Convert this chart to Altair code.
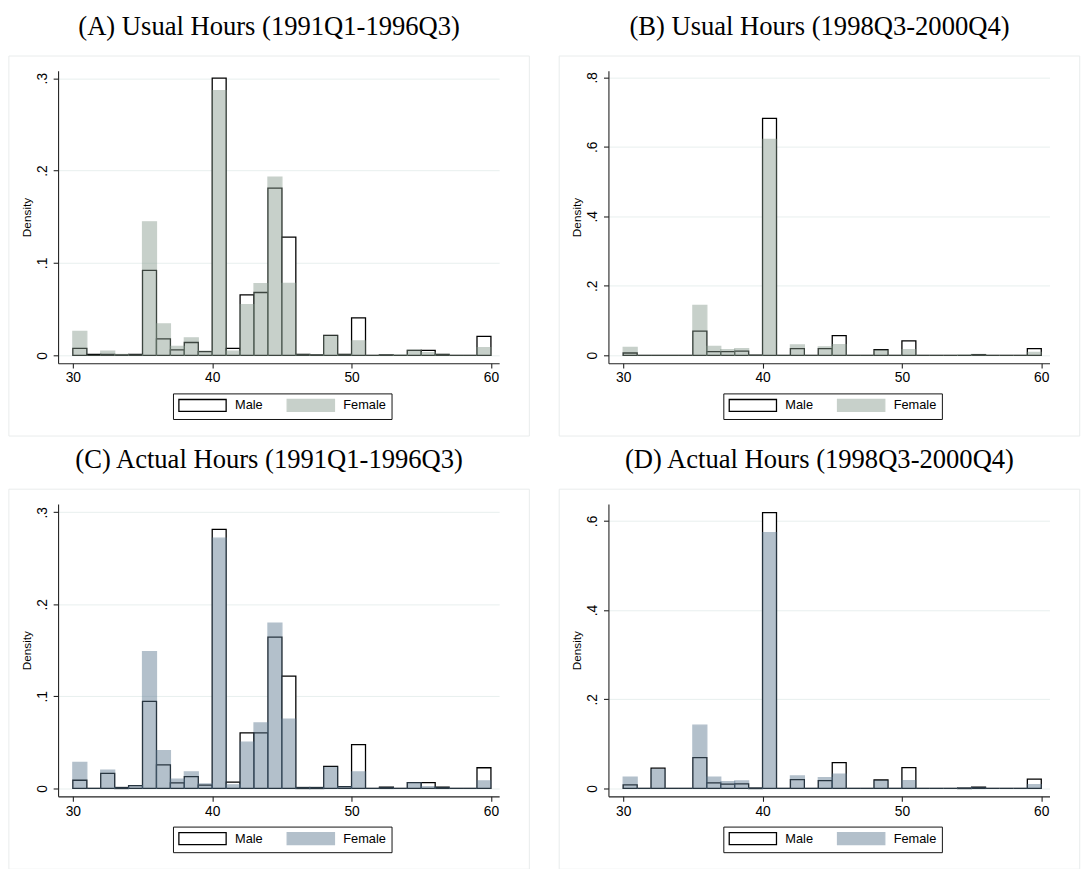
import altair as alt
import pandas as pd

# Histogram bins: one-hour bins from 30 to 60
bin_starts = list(range(30, 60))

# (A) Usual hours, 1991Q1-1996Q3
usual_early_male = [0.0075, 0.001, 0.001, 0.0005, 0.001, 0.092, 0.0178, 0.006, 0.0139, 0.004,
                    0.300, 0.0075, 0.0655, 0.068, 0.181, 0.128, 0.001, 0.0005, 0.0217, 0.001,
                    0.0406, 0.0, 0.0005, 0.0, 0.0053, 0.0053, 0.001, 0.0, 0.0, 0.0206]
usual_early_female = [0.026, 0.0, 0.0046, 0.001, 0.0005, 0.1445, 0.034, 0.0096, 0.0189, 0.0046,
                      0.2865, 0.0046, 0.055, 0.0776, 0.193, 0.078, 0.001, 0.0005, 0.021, 0.001,
                      0.0157, 0.0, 0.0005, 0.0005, 0.0057, 0.003, 0.001, 0.0, 0.0, 0.0082]

# (B) Usual hours, 1998Q3-2000Q4
usual_late_male = [0.0066, 0.0, 0.0, 0.0, 0.0, 0.0698, 0.0104, 0.0104, 0.012, 0.0005,
                   0.682, 0.0, 0.019, 0.0, 0.019, 0.0566, 0.0, 0.0, 0.016, 0.0,
                   0.0415, 0.0, 0.0, 0.0, 0.0, 0.002, 0.0, 0.0, 0.0, 0.019]
usual_late_female = [0.0226, 0.0, 0.0, 0.0, 0.0, 0.144, 0.0255, 0.016, 0.019, 0.0005,
                     0.6217, 0.0, 0.030, 0.0, 0.0245, 0.031, 0.0, 0.0, 0.014, 0.0,
                     0.016, 0.0, 0.0, 0.0, 0.001, 0.002, 0.0, 0.0, 0.0, 0.0085]

# (C) Actual hours, 1991Q1-1996Q3
actual_early_male = [0.0089, 0.0, 0.0164, 0.001, 0.003, 0.0946, 0.0257, 0.006, 0.0129, 0.0036,
                     0.2814, 0.0068, 0.0604, 0.0604, 0.1643, 0.1221, 0.001, 0.001, 0.0239, 0.002,
                     0.0475, 0.0, 0.0015, 0.0, 0.0064, 0.0064, 0.0015, 0.0, 0.0, 0.0225]
actual_early_female = [0.0282, 0.0, 0.020, 0.001, 0.003, 0.1486, 0.041, 0.010, 0.018, 0.005,
                       0.2718, 0.004, 0.0504, 0.0711, 0.1796, 0.0754, 0.001, 0.001, 0.0229, 0.002,
                       0.0179, 0.0, 0.001, 0.0, 0.0064, 0.002, 0.001, 0.0, 0.0, 0.0082]

# (D) Actual hours, 1998Q3-2000Q4
actual_late_male = [0.008, 0.0, 0.0456, 0.0, 0.0, 0.069, 0.0125, 0.0096, 0.0103, 0.001,
                    0.6184, 0.0, 0.0199, 0.0, 0.0176, 0.058, 0.0, 0.0, 0.019, 0.0,
                    0.047, 0.0, 0.0, 0.0, 0.001, 0.003, 0.0, 0.0, 0.0, 0.021]
actual_late_female = [0.0257, 0.0, 0.0426, 0.0, 0.0, 0.142, 0.0257, 0.0154, 0.017, 0.001,
                      0.5735, 0.0, 0.028, 0.0, 0.0243, 0.0324, 0.0, 0.0, 0.017, 0.0,
                      0.0176, 0.0, 0.0, 0.0, 0.001, 0.002, 0.0, 0.0, 0.0, 0.0088]

x_ticks = [30, 40, 50, 60]
sexes = ["Male", "Female"]

PLOT_W, PLOT_H = 448, 297
SANS = "Liberation Sans"
SERIF = "Liberation Serif"
AXIS_COLOR = "#222222"


def panel(title, male, female, y_lo, y_hi, y_ticks, tint):
    rows = []
    for sex, vals in (("Male", male), ("Female", female)):
        for b, v in zip(bin_starts, vals):
            rows.append({"sex": sex, "start": b, "end": b + 1, "density": v, "base": 0.0})
    df = pd.DataFrame(rows)

    legend = alt.Legend(
        title=None, orient="none", legendX=116.7, legendY=327.7,
        direction="horizontal", columns=2,
        symbolType="M-1,-1H7V1H-1Z", symbolSize=144, symbolStrokeWidth=1.3,
        labelFont=SANS, labelFontSize=13, labelColor="#000000", labelOffset=44,
        columnPadding=21, padding=5, strokeColor="#111111", fillColor="#ffffff",
    )

    bars = alt.Chart(df).mark_rect(strokeWidth=1.3).encode(
        x=alt.X("start:Q", title=None,
                scale=alt.Scale(domain=[28.94, 60.59], nice=False, zero=False),
                axis=alt.Axis(values=x_ticks, format="d", grid=False, tickSize=5,
                              labelPadding=3)),
        x2="end:Q",
        y=alt.Y("density:Q", title="Density",
                scale=alt.Scale(domain=[y_lo, y_hi], nice=False, zero=False),
                axis=alt.Axis(values=y_ticks, grid=True, tickSize=5, labelAngle=270,
                              labelAlign="center", labelBaseline="bottom", labelPadding=4,
                              labelExpr="datum.value == 0 ? '0' : substring(format(datum.value, '.1f'), 1)",
                              titlePadding=2)),
        y2="base:Q",
        fill=alt.Fill("sex:N", scale=alt.Scale(domain=sexes, range=["#ffffff", tint]), legend=legend),
        stroke=alt.Stroke("sex:N", scale=alt.Scale(domain=sexes, range=["#000000", tint]), legend=legend),
        opacity=alt.Opacity("sex:N", scale=alt.Scale(domain=sexes, range=[1.0, 0.45]), legend=legend),
    )

    # light frame around each graph region
    frame = alt.Chart(pd.DataFrame({"k": [0]})).mark_rect(
        fill="#ffffff", fillOpacity=0, stroke="#e9ecec", strokeWidth=1
    ).encode(x=alt.value(-50), x2=alt.value(478.7), y=alt.value(-15), y2=alt.value(371))

    return alt.layer(frame, bars).properties(
        width=PLOT_W, height=PLOT_H,
        title=alt.TitleParams(title, font=SERIF, fontSize=27, fontWeight="normal",
                              color="#000000", anchor="middle", frame="bounds", offset=15),
    )


green = "#85998c"
slate = "#58758e"

a = panel("(A) Usual Hours (1991Q1-1996Q3)", usual_early_male, usual_early_female,
          -0.0085, 0.308, [0, 0.1, 0.2, 0.3], green)
b = panel("(B) Usual Hours (1998Q3-2000Q4)", usual_late_male, usual_late_female,
          -0.0227, 0.819, [0, 0.2, 0.4, 0.6, 0.8], green)
c = panel("(C) Actual Hours (1991Q1-1996Q3)", actual_early_male, actual_early_female,
          -0.0086, 0.309, [0, 0.1, 0.2, 0.3], slate)
d = panel("(D) Actual Hours (1998Q3-2000Q4)", actual_late_male, actual_late_female,
          -0.0177, 0.638, [0, 0.2, 0.4, 0.6], slate)

independent = dict(fill="independent", stroke="independent", opacity="independent")

top_row = alt.hconcat(a, b, spacing=28).resolve_scale(**independent)
bottom_row = alt.hconcat(c, d, spacing=28).resolve_scale(**independent)

chart = alt.vconcat(top_row, bottom_row, spacing=9).resolve_scale(
    **independent
).properties(
    padding={"left": 8, "top": 6, "right": 0, "bottom": 0},
    background="#ffffff",
).configure_view(
    strokeWidth=0,
).configure_axis(
    domainColor=AXIS_COLOR, tickColor=AXIS_COLOR, domainWidth=1.1, tickWidth=1.1,
    labelFont=SANS, labelFontSize=14, labelColor="#000000",
    titleFont=SANS, titleFontSize=12, titleFontWeight="normal", titleColor="#000000",
    gridColor="#e8efee", gridWidth=1,
)

chart.save("out.html", embed_options={"renderer": "svg", "actions": False})
